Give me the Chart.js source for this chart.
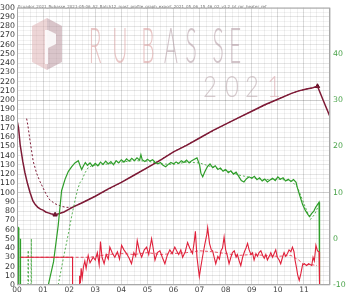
<!DOCTYPE html>
<html>
<head>
<meta charset="utf-8">
<script src="https://cdn.jsdelivr.net/npm/chart.js@4/dist/chart.umd.min.js"></script>
<style>
html, body { margin: 0; padding: 0; background: #fff; }
</style>
</head>
<body>
<canvas id="roast-chart" width="352" height="299"></canvas>
<script>
// 豆溫 (BT)
const btTime = [0, 0.06, 0.12, 0.22, 0.3, 0.4, 0.5, 0.61, 0.7, 0.8, 0.9, 1.0, 1.1, 1.2, 1.3, 1.46, 1.6, 1.8, 2.0, 2.2, 2.5, 3.0, 3.5, 4.0, 4.5, 5.0, 5.5, 6.0, 6.5, 7.0, 7.5, 8.0, 8.5, 9.0, 9.5, 10.0, 10.5, 10.8, 11.1, 11.3, 11.52, 11.75, 12.0];
const btTemp = [178, 170, 152, 134, 122, 110, 100, 91, 87, 84, 82, 81, 79, 78, 77, 76, 77, 79, 82, 85, 89, 96, 104, 111, 119, 127, 135, 144, 151, 159, 167, 174, 181, 188, 195, 201, 207, 210, 212, 213, 215, 199, 182];

// 參考曲線豆溫
const refBtTime = [0.37, 0.42, 0.5, 0.56, 0.62, 0.75, 0.88, 1.0, 1.12, 1.26, 1.45, 1.71, 1.9, 2.1, 2.5, 3.0, 4.0, 5.0, 6.0, 7.0, 8.0, 9.0, 10.0, 10.5, 10.8, 11.1, 11.3, 11.52];
const refBtTemp = [180, 172, 156, 145, 134, 121, 112, 105, 98, 92, 88, 85, 84, 84, 89, 96, 111, 127, 144, 159, 174, 188, 201, 207, 210, 212, 213, 215];

// 升溫速率 (RoR, 右軸)
const rorTime = [0.01, 0.02, 0.06, 0.07, 0.12, 0.13, 0.14, 0.5,
  1.2, 1.4, 1.58, 1.71, 1.85, 1.97, 2.1, 2.22, 2.35, 2.42, 2.48, 2.55, 2.62,
  2.7, 2.8, 2.9, 3.0, 3.1, 3.2, 3.3, 3.4, 3.5, 3.6, 3.7, 3.8, 3.9, 4.0, 4.1, 4.2, 4.3, 4.4, 4.5, 4.6, 4.7, 4.75, 4.8, 4.9,
  5.0, 5.1, 5.2, 5.3, 5.4, 5.5, 5.6, 5.7, 5.8, 5.9, 6.0, 6.1, 6.2, 6.3, 6.4, 6.5, 6.6, 6.7, 6.8, 6.9,
  7.0, 7.05, 7.12, 7.2, 7.3, 7.4, 7.5, 7.6, 7.7, 7.8, 7.9, 8.0, 8.1, 8.2, 8.3, 8.4, 8.5, 8.6, 8.7, 8.8, 8.9,
  9.0, 9.1, 9.2, 9.3, 9.4, 9.5, 9.6, 9.7, 9.8, 9.9, 10.0, 10.1, 10.2, 10.3, 10.4, 10.5, 10.6, 10.7,
  10.75, 10.85, 10.95, 11.05, 11.15, 11.22, 11.3, 11.38, 11.45, 11.52, 11.58, 11.6];
const rorVal = [-10, 2.6, 2.4, -10, -10, 0, -10, null,
  -10, -5, 2.9, 10.4, 13.0, 14.6, 15.6, 16.4, 16.9, 15.8, 15.0, 15.8, 16.5,
  15.9, 16.4, 15.7, 16.3, 15.8, 16.6, 16.1, 16.8, 16.2, 16.7, 16.0, 16.9, 16.4, 17.1, 16.6, 17.3, 16.8, 17.4, 16.9, 17.5, 17.0, 18.2, 17.1, 16.7,
  17.2, 16.8, 17.1, 16.5, 16.2, 16.5, 15.9, 15.6, 16.1, 16.5, 16.2, 16.6, 16.3, 16.9, 16.5, 17.0, 16.4, 16.9, 17.2, 17.5,
  16.0, 14.2, 13.4, 14.5, 15.6, 16.2, 15.4, 15.8, 15.0, 15.3, 14.6, 15.0, 14.3, 14.7, 14.0, 14.4, 13.5, 12.6, 12.3, 13.0, 13.4,
  13.1, 13.5, 12.8, 13.2, 12.5, 12.9, 12.3, 12.7, 13.1, 12.6, 13.4, 12.9, 13.2, 12.5, 12.9, 12.4, 12.8, 12.2,
  11.0, 9.2, 7.4, 6.2, 5.3, 4.8, 5.5, 6.0, 6.8, 7.4, 7.9, -10];

// 參考曲線 RoR
const refRorTime = [0.42, 0.43, 0.44, 0.54, 0.55, 0.56, 0.6,
  1.58, 1.75, 1.97, 2.1, 2.22, 2.32, 2.41, 2.5, 2.6, 2.73, 2.9, 3.2, 3.5, 4.0, 4.5, 5.0, 5.5, 6.0, 6.5, 7.0, 7.5, 8.0, 8.5, 9.0, 9.5, 10.0, 10.5, 10.75, 11.0, 11.25, 11.4, 11.55];
const refRorVal = [-10, -2.5, -10, -10, 0, -10, null,
  -10, -5, 1.1, 5.0, 8.2, 10.6, 12.1, 12.8, 14.2, 15.4, 15.9, 16.0, 16.2, 16.6, 16.9, 16.8, 16.2, 16.1, 16.6, 16.4, 15.5, 14.8, 13.8, 13.2, 12.8, 12.9, 12.6, 11.2, 7.6, 4.2, 5.2, 7.0];

// 火力
const heatTime = [0.14, 2.13, 2.131, 2.38, 2.4, 2.43, 2.46, 2.5, 2.55, 2.6, 2.65, 2.73, 2.8, 2.92, 3.0, 3.08, 3.15, 3.2, 3.26, 3.34, 3.42, 3.5, 3.56, 3.65, 3.75, 3.85, 3.93,
  4.01, 4.1, 4.2, 4.3, 4.39, 4.48, 4.55, 4.61, 4.7, 4.78, 4.88, 4.97, 5.05, 5.16, 5.22, 5.29, 5.38, 5.48, 5.57, 5.67, 5.76, 5.86, 5.95,
  6.05, 6.12, 6.2, 6.28, 6.35, 6.45, 6.54, 6.62, 6.73, 6.8, 6.84, 6.9, 6.99, 7.05, 7.11, 7.2, 7.28, 7.31, 7.38, 7.45, 7.5, 7.56, 7.62, 7.7, 7.76, 7.82, 7.88, 7.94,
  8.0, 8.06, 8.13, 8.2, 8.26, 8.33, 8.4, 8.45, 8.52, 8.58, 8.65, 8.72, 8.78, 8.84, 8.9, 8.97, 9.03, 9.09, 9.16, 9.22, 9.28, 9.35, 9.42, 9.48, 9.54, 9.6, 9.67, 9.73, 9.8, 9.86, 9.92, 9.98,
  10.05, 10.11, 10.18, 10.24, 10.3, 10.37, 10.43, 10.5, 10.56, 10.62, 10.66, 10.72, 10.76, 10.82, 10.88, 10.95, 11.02, 11.1, 11.18, 11.25, 11.3, 11.35, 11.4, 11.46, 11.52, 11.58, 11.6, 12.0];
const heatVal = [30, 30, 0, 0, 10, 2, 18, 8, 20, 26, 18, 32, 24, 30, 27, 35, 22, 47, 30, 23, 33, 28, 41, 35, 30, 36, 28,
  43, 38, 34, 29, 23, 35, 31, 48, 36, 30, 38, 41, 33, 50, 40, 27, 35, 37, 30, 23, 32, 38, 34,
  41, 37, 33, 38, 30, 36, 46, 40, 34, 48, 58, 30, 9, 20, 30, 44, 55, 62, 45, 38, 37, 30, 23, 31, 28, 37, 40, 52,
  38, 32, 23, 30, 35, 37, 30, 33, 26, 21, 30, 36, 40, 45, 38, 33, 35, 27, 34, 31, 35, 37, 32, 29, 33, 27, 31, 35, 30, 34, 38, 30,
  27, 23, 30, 35, 31, 34, 38, 36, 41, 36, 27, 18, 11, 5, 12, 22, 23, 21, 23, 22, 21, 30, 26, 43, 37, 36, 0, 0];

// 參考曲線火力
const refHeatTime = [0.14, 2.8, 3.0, 3.5, 4.0, 4.5, 5.0, 5.5, 6.0, 6.5, 7.0, 7.5, 8.0, 8.5, 9.0, 9.5, 10.0, 10.5, 10.8, 11.0, 11.3, 11.5];
const refHeatVal = [30, 30, 31, 33, 34, 33, 35, 33, 34, 35, 37, 36, 34, 32, 33, 32, 31, 32, 27, 22, 22, 21];

// 回溫點與下豆點
const markTime = [1.46, 11.52];
const markTemp = [76, 215];

const minuteTicks = [0, 1, 2, 3, 4, 5, 6, 7, 8, 9, 10, 11];
const tempTicks = [0, 50, 100, 150, 200, 250, 300];
const rorTicks = [-10, 0, 10, 20, 30, 40];

const fileTitle = 'Ecuador_2021_Rubasse_2021-05-06_A2_Batch12_roast_profile_graph_export_2021_05_06_15_46_02_v3.2_bt_ror_heater_ref';

function pts(t, v) {
  return t.map((x, i) => ({ x: x, y: v[i] }));
}

const maroon = '#7d1a36';
const green = '#2f9e2a';
const red = '#e0203a';

const watermark = {
  id: 'watermark',
  beforeDatasetsDraw(chart) {
    const ctx = chart.ctx;
    ctx.save();
    // logo
    ctx.fillStyle = 'rgba(222,178,180,0.55)';
    ctx.beginPath();
    ctx.moveTo(47, 18); ctx.lineTo(47, 70); ctx.lineTo(32, 62); ctx.lineTo(32, 26); ctx.closePath();
    ctx.fill();
    ctx.fillStyle = 'rgba(185,150,158,0.55)';
    ctx.beginPath();
    ctx.moveTo(47, 18); ctx.lineTo(62, 26); ctx.lineTo(62, 62); ctx.lineTo(47, 70); ctx.closePath();
    ctx.fill();
    ctx.fillStyle = 'rgba(255,255,255,0.85)';
    ctx.fillRect(45, 30, 3, 34);
    ctx.beginPath();
    ctx.moveTo(48, 30); ctx.lineTo(56, 34); ctx.lineTo(56, 44); ctx.lineTo(48, 48); ctx.closePath();
    ctx.fill();

    // RUBASSE
    const letters = ['R', 'U', 'B', 'A', 'S', 'S', 'E'];
    const xs = [95, 120, 148, 171, 191, 218, 235];
    ctx.font = '300 50px Lato, "DejaVu Sans"';
    ctx.textAlign = 'center';
    ctx.textBaseline = 'alphabetic';
    letters.forEach((l, i) => {
      ctx.fillStyle = i < 3 ? 'rgba(218,160,160,0.6)' : 'rgba(175,150,158,0.55)';
      ctx.save();
      ctx.translate(xs[i], 63);
      ctx.scale(0.42, 1);
      ctx.fillText(l, 0, 0);
      ctx.restore();
    });
    // 2021
    const ys = ['2', '0', '2', '1'];
    const xs2 = [210, 232, 252, 274];
    ctx.font = '300 30px Lato, "DejaVu Sans"';
    ys.forEach((l, i) => {
      ctx.fillStyle = i === 3 ? 'rgba(215,165,170,0.6)' : 'rgba(180,160,165,0.55)';
      ctx.save();
      ctx.translate(xs2[i], 97);
      ctx.scale(0.8, 1);
      ctx.fillText(l, 0, 0);
      ctx.restore();
    });

    // title
    ctx.textAlign = 'left';
    ctx.font = '4px "DejaVu Sans"';
    ctx.fillStyle = '#777';
    ctx.fillText(fileTitle, 18, 8);
    ctx.restore();
  },
  afterDraw(chart) {
    const a = chart.chartArea;
    const ctx = chart.ctx;
    ctx.save();
    ctx.strokeStyle = '#a8a8a8';
    ctx.lineWidth = 1;
    ctx.strokeRect(a.left + 0.5, a.top + 0.5, a.right - a.left - 1, a.bottom - a.top - 1);
    ctx.restore();
  }
};

new Chart(document.getElementById('roast-chart'), {
  type: 'line',
  data: {
    datasets: [
      { label: 'ref heat', data: pts(refHeatTime, refHeatVal), yAxisID: 'y', borderColor: 'rgba(224,32,58,0.75)', borderWidth: 1, borderDash: [3, 2] },
      { label: 'heat', data: pts(heatTime, heatVal), yAxisID: 'y', borderColor: red, borderWidth: 1.1 },
      { label: 'ref ror', data: pts(refRorTime, refRorVal), yAxisID: 'y2', borderColor: 'rgba(47,158,42,0.8)', borderWidth: 1, borderDash: [2, 2] },
      { label: 'ror', data: pts(rorTime, rorVal), yAxisID: 'y2', borderColor: green, borderWidth: 1.2 },
      { label: 'ref bt', data: pts(refBtTime, refBtTemp), yAxisID: 'y', borderColor: maroon, borderWidth: 1, borderDash: [2, 2] },
      { label: 'bt', data: pts(btTime, btTemp), yAxisID: 'y', borderColor: maroon, borderWidth: 1.5 },
      { label: 'marks', data: pts(markTime, markTemp), yAxisID: 'y', showLine: false, pointRadius: 2.5, pointStyle: 'triangle', pointBackgroundColor: '#5e0c22', pointBorderColor: '#5e0c22' }
    ]
  },
  options: {
    responsive: false,
    animation: false,
    parsing: false,
    normalized: true,
    spanGaps: false,
    layout: { padding: { top: 5, left: 0, right: 0, bottom: 0 } },
    elements: { line: { tension: 0, fill: false }, point: { radius: 0 } },
    plugins: { legend: { display: false }, tooltip: { enabled: false } },
    scales: {
      x: {
        type: 'linear',
        min: 0,
        max: 12,
        afterFit: s => { s.height = 14; },
        afterBuildTicks: s => {
          const t = [];
          for (let i = 0; i <= 48; i++) t.push({ value: i / 4 });
          s.ticks = t;
        },
        border: { display: false },
        grid: {
          drawTicks: false,
          color: c => (c.tick && Number.isInteger(c.tick.value)) ? 'rgba(0,0,0,0.14)' : 'rgba(0,0,0,0.06)'
        },
        ticks: {
          autoSkip: false,
          maxRotation: 0,
          padding: 1,
          color: '#444',
          font: { family: 'DejaVu Sans', size: 7.5 },
          callback: v => minuteTicks.includes(v) ? String(v).padStart(2, '0') : ''
        }
      },
      y: {
        position: 'left',
        min: 0,
        max: 300,
        afterFit: s => { s.width = 17; },
        afterBuildTicks: s => {
          const t = [];
          for (let i = 0; i <= 60; i++) t.push({ value: i * 5 });
          s.ticks = t;
        },
        border: { display: false },
        grid: {
          drawTicks: false,
          color: c => {
            const v = c.tick ? c.tick.value : 0;
            if (v === 200 || v === 100) return 'rgba(0,0,0,0.2)';
            return v % 10 === 0 ? 'rgba(0,0,0,0.1)' : 'rgba(0,0,0,0.05)';
          }
        },
        ticks: {
          autoSkip: false,
          padding: 2,
          color: '#333',
          font: { family: 'DejaVu Sans', size: 7.8 },
          callback: v => (v % 10 === 0) ? String(v) : ''
        }
      },
      y2: {
        position: 'right',
        min: -10,
        max: 50,
        afterFit: s => { s.width = 22; },
        afterBuildTicks: s => {
          s.ticks = rorTicks.map(v => ({ value: v }));
        },
        border: { display: false },
        grid: { display: false, drawTicks: false },
        ticks: {
          padding: 3,
          color: '#4aa34a',
          font: { family: 'DejaVu Sans', size: 7.8 }
        }
      }
    }
  },
  plugins: [watermark]
});
</script>
</body>
</html>
